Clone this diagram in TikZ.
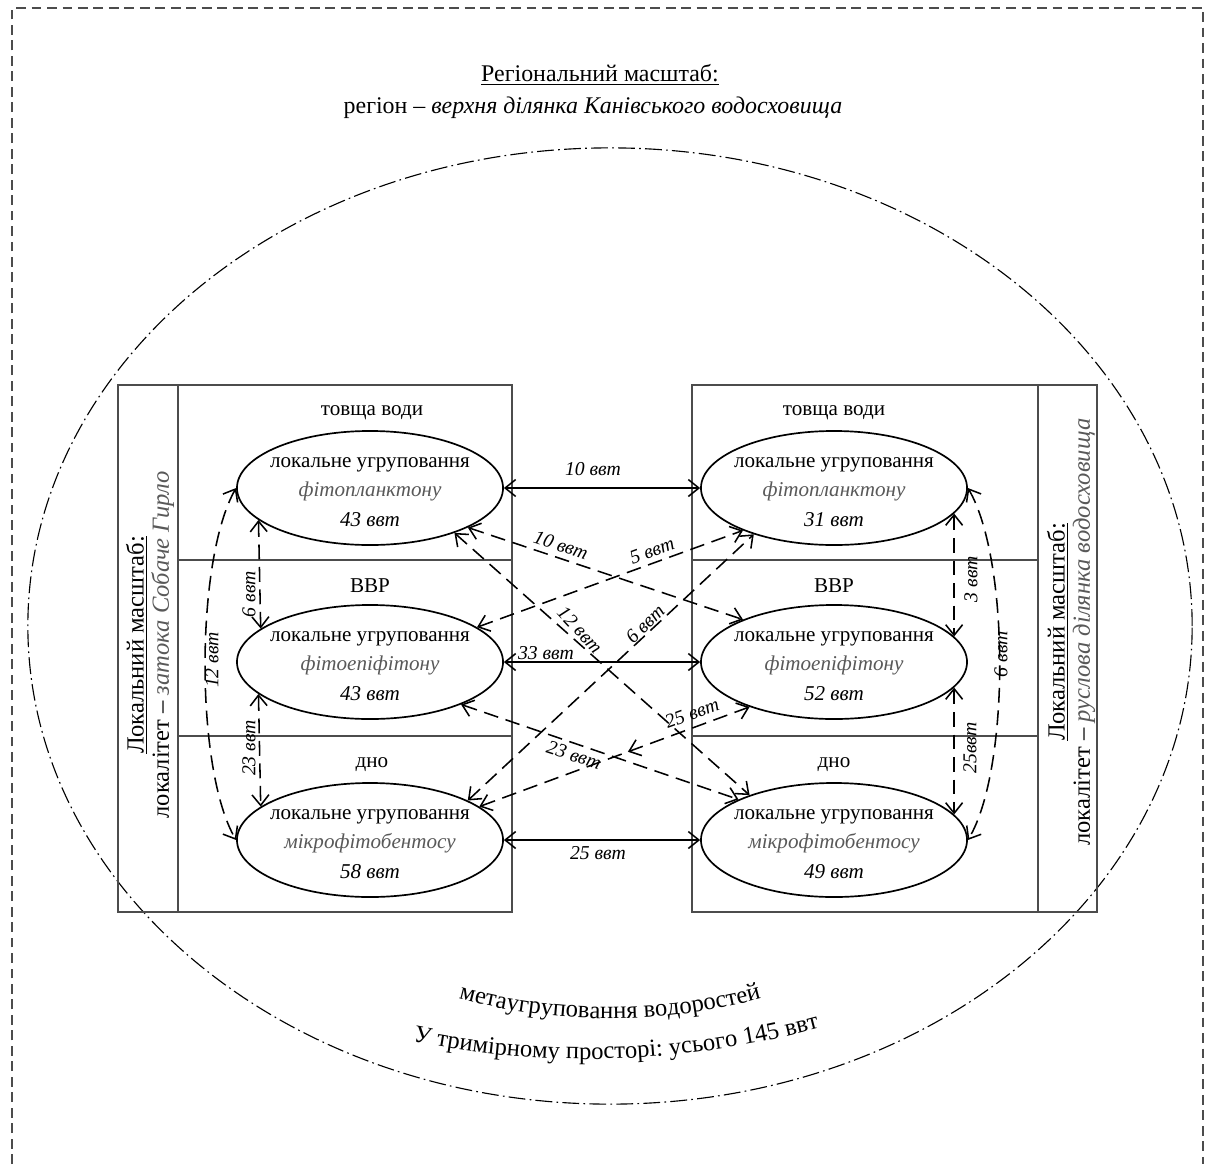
\documentclass[tikz,border=0pt]{standalone}
\usepackage{fontspec}
\setmainfont{Liberation Serif}
\usetikzlibrary{arrows.meta,decorations.text,decorations.markings,shapes.geometric}
\definecolor{taxgray}{gray}{0.35}
\definecolor{framegray}{gray}{0.3}
\newcommand\curvefont{\fontsize{17.5}{20}\selectfont}
\tikzset{
  frameline/.style={draw=framegray, line width=1.2pt},
  ell/.style={ellipse, draw, line width=1.2pt, minimum width=6.65cm, minimum height=2.85cm, inner sep=0pt},
  etext/.style={align=center, font=\fontsize{15}{21}\selectfont, inner sep=0pt},
  zone/.style={font=\fontsize{15}{18}\selectfont, inner sep=0pt},
  biarrow/.style={<->, line width=1.1pt},
  bidash/.style={<->, line width=1.1pt, dash pattern=on 10.5pt off 5.5pt},
  lbl/.style={font=\itshape\fontsize{14}{16}\selectfont, inner sep=1pt},
  vlabel/.style={rotate=90, align=center, font=\fontsize{17.5}{18}\selectfont, inner sep=0pt},
}
\begin{document}
\begin{tikzpicture}[x=0.025cm,y=-0.025cm,>={Straight Barb[length=7.5pt,width=12pt]}]
\useasboundingbox (0,0) rectangle (1208,1164);
\fill[white] (0,0) rectangle (1208,1164);
% outer border
\draw[draw=black!70, line width=0.8pt, dash pattern=on 7pt off 4pt] (12,1164) -- (12,8) -- (1203,8) -- (1203,1164);
% big dash-dot ellipse
\draw[line width=0.8pt, dash pattern=on 12pt off 3pt on 1.2pt off 3pt] (610,626) ellipse [x radius=14.55cm, y radius=11.95cm];
% titles
\node[font=\fontsize{17}{20}\selectfont] (title) at (600,75) {\underline{Регіональний масштаб:}};
\node[font=\fontsize{17}{20}\selectfont] (subtitle) at (593,108) {регіон – \textit{верхня ділянка Канівського водосховища}};
% panels
\draw[frameline] (118,385) rectangle (512,912);
\draw[frameline] (178,385) -- (178,912);
\draw[frameline] (178,560) -- (512,560);
\draw[frameline] (178,736) -- (512,736);
\draw[frameline] (692,385) rectangle (1097,912);
\draw[frameline] (1038,385) -- (1038,912);
\draw[frameline] (692,560) -- (1038,560);
\draw[frameline] (692,736) -- (1038,736);
% zone labels
\node[zone] (ztl) at (372,413) {товща води};
\node[zone] (zml) at (370,586) {ВВР};
\node[zone] (zbl) at (372,765) {дно};
\node[zone] (ztr) at (834,413) {товща води};
\node[zone] (zmr) at (834,586) {ВВР};
\node[zone] (zbr) at (834,765) {дно};
% ellipses
\node[ell] (tl) at (370,488) {};
\node[ell] (ml) at (370,662) {};
\node[ell] (bl) at (370,840) {};
\node[ell] (tr) at (834,488) {};
\node[ell] (mr) at (834,662) {};
\node[ell] (br) at (834,840) {};
\node[etext] (tlt) at (370,492) {локальне угруповання\\{\itshape\color{taxgray}фітопланктону}\\{\itshape 43 ввт}};
\node[etext] (mlt) at (370,666) {локальне угруповання\\{\itshape\color{taxgray}фітоепіфітону}\\{\itshape 43 ввт}};
\node[etext] (blt) at (370,844) {локальне угруповання\\{\itshape\color{taxgray}мікрофітобентосу}\\{\itshape 58 ввт}};
\node[etext] (trt) at (834,492) {локальне угруповання\\{\itshape\color{taxgray}фітопланктону}\\{\itshape 31 ввт}};
\node[etext] (mrt) at (834,666) {локальне угруповання\\{\itshape\color{taxgray}фітоепіфітону}\\{\itshape 52 ввт}};
\node[etext] (brt) at (834,844) {локальне угруповання\\{\itshape\color{taxgray}мікрофітобентосу}\\{\itshape 49 ввт}};
% vertical side labels
\node[vlabel] (locl) at (150,645) {\underline{Локальний масштаб:}\\локалітет – {\itshape\color{taxgray}затока Собаче Гирло}};
\node[vlabel] (locr) at (1071,632) {\underline{Локальний масштаб:}\\локалітет – {\itshape\color{taxgray}руслова ділянка водосховища}};
% horizontal solid arrows
\draw[biarrow] (tl.east) -- (tr.west);
\draw[biarrow] (ml.east) -- (mr.west);
\draw[biarrow] (bl.east) -- (br.west);
\node[lbl] (h1) at (593,469) {10 ввт};
\node[lbl] (h2) at (546,653) {33 ввт};
\node[lbl] (h3) at (598,853) {25 ввт};
% vertical dashed arrows
\draw[bidash] (tl.196.8) -- (ml.163.2);
\draw[bidash] (ml.196.8) -- (bl.163.2);
\draw[bidash] (tr.-12) -- (mr.12);
\draw[bidash] (mr.-12) -- (br.12);
\draw[bidash] (tl.west) .. controls (195,560) and (195,770) .. (bl.west);
\draw[bidash] (tr.east) .. controls (1010,560) and (1010,770) .. (br.east);
\node[lbl, rotate=90] (v1) at (249,594) {6 ввт};
\node[lbl, rotate=90] (v2) at (249,748) {23 ввт};
\node[lbl, rotate=90] (v3) at (212,660) {12 ввт};
\node[lbl, rotate=90] (v4) at (971,579) {3 ввт};
\node[lbl, rotate=90] (v5) at (970,748) {25ввт};
\node[lbl, rotate=90] (v6) at (1001,654) {6 ввт};
% diagonal dashed arrows
\draw[bidash] (tl.-22) -- (mr.155);
\draw[bidash] (tl.-28) -- (br.152);
\draw[bidash] (ml.18) -- (tr.205);
\draw[bidash] (bl.22) -- (tr.210);
\draw[bidash] (ml.-25) -- (br.157);
\draw[bidash, postaction={decorate}, decoration={markings, mark=at position 0.55 with {\arrowreversed{Straight Barb[length=7.5pt,width=12pt]}}}] (bl.17) -- (mr.208);
\node[lbl, rotate=-18.6] (d1) at (561,545) {10 ввт};
\node[lbl, rotate=20] (d2) at (652,551) {5 ввт};
\node[lbl, rotate=-47] (d3) at (580,630) {12 ввт};
\node[lbl, rotate=45] (d4) at (645,624) {6 ввт};
\node[lbl, rotate=-18] (d5) at (574,755) {23 ввт};
\node[lbl, rotate=20] (d6) at (692,713) {25 ввт};
% curved bottom text
\path[decorate, decoration={text along path, text align=center, text={|\curvefont|метаугруповання водоростей}}] (450,996) .. controls (555,1026) and (665,1026) .. (770,996);
\path[decorate, decoration={text along path, text align=center, text={|\curvefont|У тримірному просторі: усього 145 ввт}}] (398,1038) .. controls (530,1068) and (680,1068) .. (834,1024);
\end{tikzpicture}
\end{document}
